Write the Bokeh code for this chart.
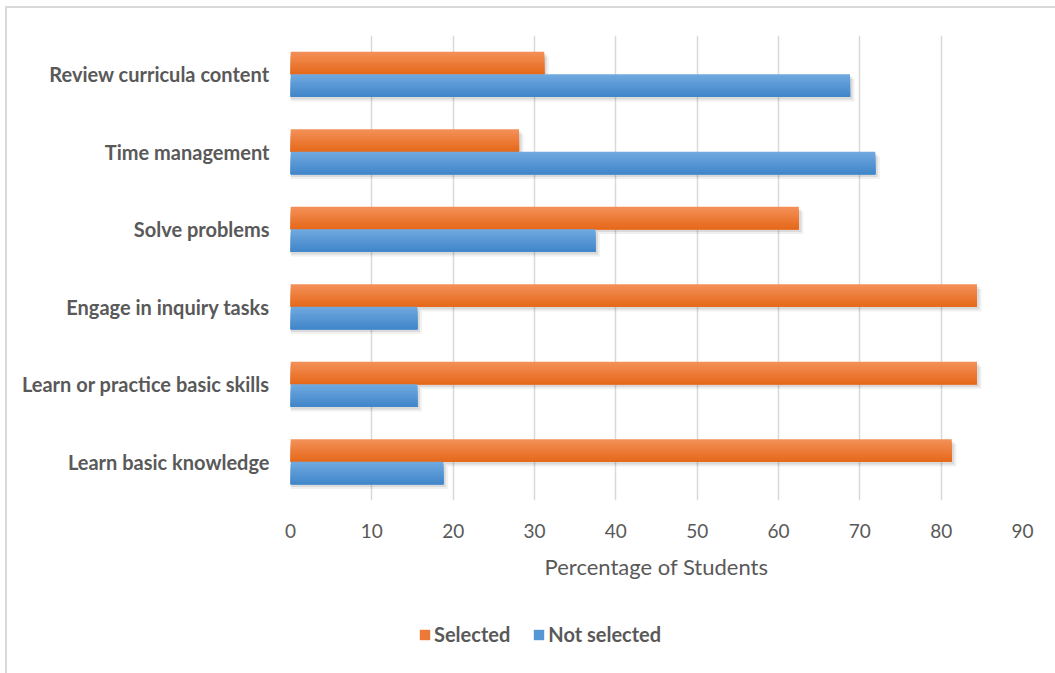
from bokeh.plotting import figure
from bokeh.layouts import column
from bokeh.models import (FactorRange, Range1d, SingleIntervalTicker, Legend, LegendItem)
from bokeh.transform import dodge
from bokeh.embed import file_html
from bokeh.resources import INLINE

categories = ["Review curricula content", "Time management", "Solve problems",
              "Engage in inquiry tasks", "Learn or practice basic skills", "Learn basic knowledge"]
selected = [31.2, 28.1, 62.5, 84.4, 84.4, 81.3]
not_selected = [68.8, 71.9, 37.5, 15.6, 15.6, 18.8]
series_names = ["Selected", "Not selected"]

FONT = "Lato"
TXT = "#595959"

factors = list(reversed(categories))
p = figure(width=1048, height=610, y_range=FactorRange(*factors),
           x_range=Range1d(0, 90), output_backend="svg", toolbar_location=None,
           min_border_left=283, min_border_right=33, min_border_top=27, min_border_bottom=118)
p.outline_line_color = None
p.background_fill_color = "white"
p.border_fill_color = "white"

# axes
p.xaxis.ticker = SingleIntervalTicker(interval=10)
p.xaxis.axis_line_color = None
p.xaxis.major_tick_line_color = None
p.xaxis.minor_tick_line_color = None
p.xaxis.major_label_text_font = FONT
p.xaxis.major_label_text_font_size = "19px"
p.xaxis.major_label_text_color = TXT
p.xaxis.major_label_standoff = 17
p.xaxis.axis_label = "Percentage of Students"
p.xaxis.axis_label_text_font = FONT
p.xaxis.axis_label_text_font_size = "22px"
p.xaxis.axis_label_text_font_style = "normal"
p.xaxis.axis_label_text_color = TXT
p.xaxis.axis_label_standoff = 12

p.yaxis.axis_line_color = None
p.yaxis.major_tick_line_color = None
p.yaxis.minor_tick_line_color = None
p.yaxis.major_label_text_font = FONT
p.yaxis.major_label_text_font_size = "20px"
p.yaxis.major_label_text_font_style = "bold"
p.yaxis.major_label_text_color = TXT
p.yaxis.major_label_standoff = 15

p.ygrid.grid_line_color = None
p.xgrid.grid_line_color = "#D9D9D9"
p.xgrid.grid_line_width = 1.5

data = dict(cat=categories, sel=selected, nsel=not_selected)

H = 0.29
offsets = {"sel": H / 2, "nsel": -H / 2}
grad = {"sel": ((243, 143, 86), (230, 106, 28)),
        "nsel": ((111, 168, 223), (67, 135, 203))}

# soft shadows
for key in ["sel", "nsel"]:
    for dx, dy, a in [(0.55, 0.06, 0.06), (0.3, 0.035, 0.09)]:
        src = dict(cat=categories, v=[v + dx for v in data[key]])
        p.hbar(y=dodge("cat", offsets[key] - dy, range=p.y_range), right="v", left=0,
               height=H, source=src, fill_color="black", fill_alpha=a, line_color=None)

# gradient bars: each layer spans from its top edge down to the bar bottom
K = 10
mid_colors = {}
for key in ["sel", "nsel"]:
    c0, c1 = grad[key]
    bottom = offsets[key] - H / 2
    for k in range(K):
        t = k / (K - 1)
        col = "#%02x%02x%02x" % tuple(int(round(c0[i] + (c1[i] - c0[i]) * t)) for i in range(3))
        top = offsets[key] + H / 2 - k * H / K
        hk = top - bottom
        p.hbar(y=dodge("cat", bottom + hk / 2, range=p.y_range), right=key, left=0,
               height=hk, source=data, fill_color=col, line_color=None)
        if k == K // 2:
            mid_colors[key] = col

# legend strip (separate small figure so the legend is not clipped)
lf = figure(width=1048, height=55, x_range=Range1d(0, 1), y_range=Range1d(0, 1),
            output_backend="svg", toolbar_location=None,
            min_border=0, min_border_left=0, min_border_right=0, min_border_top=0, min_border_bottom=0)
lf.axis.visible = False
lf.grid.visible = False
lf.outline_line_color = None
lf.border_fill_color = "white"
r_sel = lf.rect(x=[-5], y=[-5], width=0.1, height=0.1, fill_color=mid_colors["sel"], line_color=None)
r_nsel = lf.rect(x=[-5], y=[-5], width=0.1, height=0.1, fill_color=mid_colors["nsel"], line_color=None)
legend = Legend(items=[LegendItem(label=series_names[0], renderers=[r_sel]),
                       LegendItem(label=series_names[1], renderers=[r_nsel])],
                orientation="horizontal", location=(128, 27),
                glyph_width=13, glyph_height=13, label_standoff=3, spacing=22,
                padding=0, margin=0, border_line_color=None, background_fill_alpha=0,
                label_text_font=FONT, label_text_font_size="20px",
                label_text_font_style="bold", label_text_color=TXT, label_height=20)
lf.add_layout(legend, "center")

layout = column(p, lf, spacing=0)
layout.styles = {"margin-left": "5px", "margin-top": "6px",
                 "border-left": "2px solid #D9D9D9", "border-top": "2px solid #D9D9D9"}

open("out.html", "w").write(file_html(layout, INLINE))
